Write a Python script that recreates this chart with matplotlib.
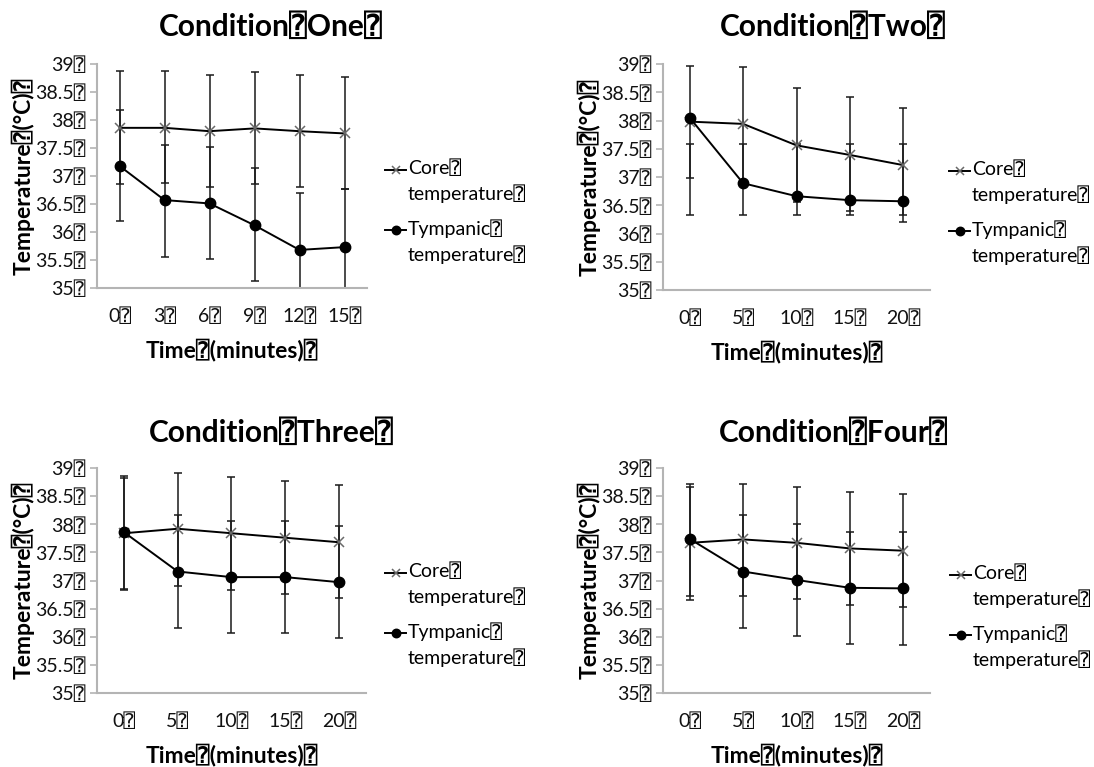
import matplotlib
matplotlib.use('Agg')
import matplotlib.pyplot as plt
from matplotlib.lines import Line2D
import numpy as np

BOX = '\u2370'
plt.rcParams['font.family'] = ['Lato', 'DejaVu Sans', 'DejaVu Sans Mono']

# values
titles = ['Condition One', 'Condition Two', 'Condition Three', 'Condition Four']
times = [['0', '3', '6', '9', '12', '15'],
         ['0', '5', '10', '15', '20'],
         ['0', '5', '10', '15', '20'],
         ['0', '5', '10', '15', '20']]

core = [[37.86, 37.86, 37.80, 37.85, 37.80, 37.76],
        [37.98, 37.94, 37.56, 37.39, 37.21],
        [37.84, 37.92, 37.84, 37.76, 37.68],
        [37.67, 37.73, 37.67, 37.57, 37.53]]
core_lo = [[36.86, 36.88, 36.80, 36.85, 36.81, 36.76],
           [36.98, 36.94, 36.56, 36.40, 36.21],
           [36.85, 36.91, 36.84, 36.76, 36.69],
           [36.65, 36.72, 36.67, 36.57, 36.53]]
core_hi = [[38.87, 38.87, 38.81, 38.86, 38.81, 38.77],
           [38.97, 38.94, 38.58, 38.41, 38.23],
           [38.83, 38.92, 38.84, 38.77, 38.70],
           [38.66, 38.72, 38.67, 38.57, 38.54]]

tymp = [[37.18, 36.57, 36.51, 36.12, 35.68, 35.73],
        [38.05, 36.89, 36.66, 36.59, 36.57],
        [37.86, 37.16, 37.06, 37.06, 36.97],
        [37.74, 37.16, 37.01, 36.87, 36.86]]
tymp_lo = [[36.19, 35.56, 35.51, 35.13, 34.68, 34.72],
           [36.33, 36.33, 36.33, 36.33, 36.33],
           [36.83, 36.16, 36.07, 36.07, 35.98],
           [36.72, 36.16, 36.01, 35.87, 35.86]]
tymp_hi = [[38.18, 37.55, 37.52, 37.14, 36.69, 36.76],
           [37.58, 37.58, 37.58, 37.58, 37.58],
           [38.86, 38.16, 38.06, 38.06, 37.97],
           [38.72, 38.16, 38.01, 37.87, 37.86]]

yticks = [35, 35.5, 36, 36.5, 37, 37.5, 38, 38.5, 39]

W, H = 1094, 767
# plot areas in pixels: left, top, right, bottom
rects = [(97, 64, 367, 288), (663, 64, 930, 290),
         (97, 468, 366, 693), (663, 468, 930, 693)]
title_pos = [(271, 27), (833, 27), (271, 433), (833, 433)]
legend_pos = [(385, 170), (949, 171), (385, 573), (950, 575)]

fig = plt.figure(figsize=(W / 100, H / 100), dpi=100)

for i in range(4):
    l, t, r, b = rects[i]
    ax = fig.add_axes([l / W, 1 - b / H, (r - l) / W, (b - t) / H])
    x = np.arange(len(times[i]))

    for lo, hi in [(core_lo[i], core_hi[i]), (tymp_lo[i], tymp_hi[i])]:
        lo, hi = np.array(lo), np.array(hi)
        ax.errorbar(x, (lo + hi) / 2, yerr=(hi - lo) / 2, fmt='none',
                    ecolor='#1a1a1a', elinewidth=1.1, capsize=2.6, capthick=1.1)
    ax.plot(x, core[i], color='black', lw=1.4, marker='x', ms=7.5,
            mec='#6a6a6a', mew=1.1)
    ax.plot(x, tymp[i], color='black', lw=1.4, marker='o', ms=7.5)

    ax.set_xlim(-0.5, len(x) - 0.5)
    ax.set_ylim(35, 39)
    ax.set_xticks(x)
    ax.set_xticklabels([s + BOX for s in times[i]])
    ax.set_yticks(yticks)
    ax.set_yticklabels([f'{v:g}{BOX}' for v in yticks])
    ax.tick_params(axis='x', length=0, pad=14, labelsize=14, labelcolor='#111')
    ax.tick_params(axis='y', length=5, width=1.2, color='#b4b4b4', pad=3,
                   labelsize=14, labelcolor='#111')
    for s in ['top', 'right']:
        ax.spines[s].set_visible(False)
    for s in ['left', 'bottom']:
        ax.spines[s].set_color('#b4b4b4')
        ax.spines[s].set_linewidth(1.5)

    ax.set_xlabel('Time' + BOX + '(minutes)' + BOX, fontweight='bold', fontsize=16.5)
    ax.xaxis.set_label_coords(0.5, -50 / (b - t))
    ax.set_ylabel('Temperature' + BOX + '(°C)' + BOX, fontweight='bold', fontsize=16.5)
    ax.yaxis.set_label_coords(-62 / (r - l), 0.5)

    tx, ty = title_pos[i]
    fig.text(tx / W, 1 - ty / H, titles[i].replace(' ', BOX) + BOX,
             ha='center', va='center', fontsize=21.5, fontweight='bold')

    # legend, handle lined up with the first text line
    lx, ly = legend_pos[i]
    entries = [('x', '#6a6a6a', 'Core' + BOX + '\ntemperature' + BOX),
               ('o', 'black', 'Tympanic' + BOX + '\ntemperature' + BOX)]
    for k, (m, mc, lab) in enumerate(entries):
        y = ly + k * 60
        fig.add_artist(Line2D([lx / W, (lx + 10.5) / W, (lx + 21) / W], [1 - y / H] * 3,
                              color='black', lw=1.4, marker=m, ms=6,
                              markevery=[1], mec=mc, mfc=mc, mew=1.1))
        fig.text((lx + 23) / W, 1 - (y - 11) / H, lab, ha='left', va='top',
                 fontsize=14, linespacing=1.47)

fig.savefig('out.png', dpi=100)
